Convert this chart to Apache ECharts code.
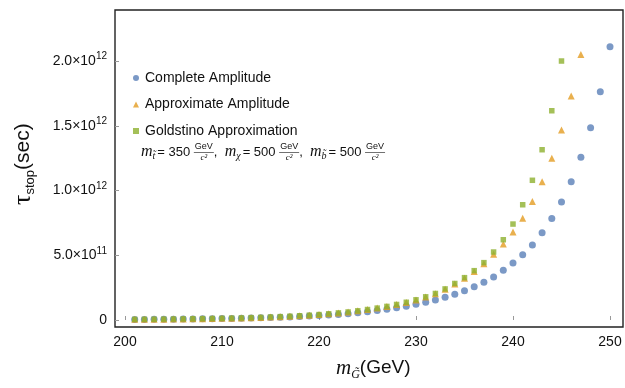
<!DOCTYPE html>
<html><head><meta charset="utf-8">
<script src="https://cdn.jsdelivr.net/npm/echarts@6/dist/echarts.min.js"></script>
<style>html,body{margin:0;padding:0;background:#fff}#c{width:625px;height:388px}</style>
</head><body><div id="c"></div>
<script>
// ---- data (tau in units of 1e12 s) ----
const massG = [201,202,203,204,205,206,207,208,209,210,211,212,213,214,215,216,217,218,219,220,
  221,222,223,224,225,226,227,228,229,230,231,232,233,234,235,236,237,238,239,240,
  241,242,243,244,245,246,247,248,249,250];
const completeAmp = [0.004,0.0045,0.005,0.0055,0.006,0.007,0.008,0.009,0.010,0.011,
  0.012,0.014,0.015,0.017,0.019,0.021,0.024,0.027,0.030,0.034,
  0.038,0.043,0.049,0.056,0.064,0.073,0.083,0.094,0.107,0.121,
  0.137,0.155,0.176,0.199,0.226,0.257,0.292,0.333,0.384,0.440,
  0.504,0.580,0.674,0.783,0.911,1.068,1.256,1.485,1.763,2.110];
const approxAmp = [0.005,0.0055,0.006,0.0067,0.0075,0.0085,0.0095,0.0106,0.0118,0.013,
  0.0145,0.016,0.018,0.020,0.023,0.026,0.029,0.033,0.037,0.042,
  0.048,0.055,0.062,0.071,0.081,0.092,0.105,0.119,0.136,0.155,
  0.177,0.203,0.237,0.278,0.322,0.374,0.434,0.507,0.587,0.680,
  0.785,0.916,1.068,1.250,1.467,1.730,2.050];
const goldstinoApprox = [0.005,0.0055,0.006,0.0067,0.0075,0.0085,0.0095,0.0106,0.0118,0.013,
  0.0145,0.016,0.018,0.020,0.023,0.026,0.029,0.033,0.037,0.042,
  0.048,0.055,0.062,0.071,0.081,0.092,0.105,0.120,0.137,0.156,
  0.179,0.205,0.240,0.282,0.327,0.381,0.443,0.525,0.620,0.741,
  0.890,1.079,1.315,1.616,2.000];
const seriesNames = ['Complete Amplitude','Approximate Amplitude','Goldstino Approximation'];
const xTicks = [200,210,220,230,240,250];
const yTicks = [0,0.5,1.0,1.5,2.0];
const yTickMantissa = ['0','5.0×10','1.0×10','1.5×10','2.0×10'];
const yTickExponent = ['','11','12','12','12'];
const UNIT = 1e12;

const colors = ['#5A7FB8','#E49C22','#8DB02E'];
const SANS = 'Liberation Sans';
const SERIF = 'Liberation Serif';

function pairs(arr){ return arr.map((v,i)=>[massG[i], v*UNIT]); }

// ---- text layout helpers for math-like annotations ----
const mctx = document.createElement('canvas').getContext('2d');
function fontStr(t){ return (t.italic?'italic ':'') + t.size + 'px "' + (t.family||SANS) + '"'; }
function measure(t){ mctx.font = fontStr(t); return mctx.measureText(t.t).width; }
function layout(tokens){
  const out = []; let x = 0;
  tokens.forEach(tk=>{
    if (tk.frac){
      const n = {t:tk.frac[0], size:9, family:SANS};
      const d = {t:tk.frac[1], size:9, family:SERIF, italic:true};
      const w = Math.max(measure(n), measure(d)) + 2;
      out.push({type:'text', style:{text:n.t, x:x+w/2, y:-5, font:fontStr(n), fill:'#111', align:'center', verticalAlign:'middle'}});
      out.push({type:'line', shape:{x1:x, y1:0.5, x2:x+w, y2:0.5}, style:{stroke:'#333', lineWidth:0.7}});
      out.push({type:'text', style:{text:d.t, x:x+w/2, y:6, font:fontStr(d), fill:'#111', align:'center', verticalAlign:'middle'}});
      x += w + (tk.gap||0);
    } else {
      out.push({type:'text', style:{text:tk.t, x:x, y:(tk.dy||0), font:fontStr(tk), fill:'#111', align:'left', verticalAlign:'middle'}});
      x += measure(tk) + (tk.gap||0);
    }
  });
  return out;
}

const annot = layout([
  {t:'m', size:16, family:SERIF, italic:true},
  {t:'t\u0303', size:10, family:SERIF, italic:true, dy:4, gap:2},
  {t:'= 350 ', size:13},
  {frac:['GeV','c²']},
  {t:',  ', size:13},
  {t:'m', size:16, family:SERIF, italic:true},
  {t:'χ', size:10, family:SERIF, italic:true, dy:4, gap:2},
  {t:'= 500 ', size:13},
  {frac:['GeV','c²']},
  {t:',  ', size:13},
  {t:'m', size:16, family:SERIF, italic:true},
  {t:'b\u0303', size:10, family:SERIF, italic:true, dy:4, gap:2},
  {t:'= 500 ', size:13},
  {frac:['GeV','c²']}
]);
const xTitle = layout([
  {t:'m', size:21, family:SERIF, italic:true},
  {t:'G\u0303', size:12, family:SERIF, italic:true, dy:7},
  {t:'(GeV)', size:19}
]);
const yTitle = layout([
  {t:'τ', size:26, family:SERIF},
  {t:'stop', size:13, dy:7},
  {t:'(sec)', size:21}
]);

const chart = echarts.init(document.getElementById('c'), null, {renderer:'canvas'});
const markers = ['circle','triangle','rect'];
const sizes = [7,7,5.5];
const datasets = [completeAmp, approxAmp, goldstinoApprox];

chart.setOption({
  animation:false,
  backgroundColor:'#fff',
  grid:{left:115, right:2, top:10, bottom:61, show:true, borderColor:'#222', borderWidth:1.4, backgroundColor:'transparent'},
  xAxis:{type:'value', min:198.97, max:251.34,
    axisLine:{show:false},
    axisTick:{show:true, inside:true, length:4, lineStyle:{color:'#999'}, customValues:xTicks},
    axisLabel:{customValues:xTicks, margin:8, fontSize:14, fontFamily:SANS, color:'#111'},
    splitLine:{show:false}},
  yAxis:{type:'value', min:-0.054*UNIT, max:2.394*UNIT,
    axisLine:{show:false},
    axisTick:{show:true, inside:true, length:4, lineStyle:{color:'#999'}, customValues:yTicks.map(v=>v*UNIT)},
    axisLabel:{customValues:yTicks.map(v=>v*UNIT), margin:8, fontFamily:SANS, color:'#111',
      formatter:function(v){
        let i = yTicks.findIndex(t=>Math.abs(t*UNIT - v) < 1e6);
        if (i < 0) return '';
        return yTickExponent[i] ? '{a|'+yTickMantissa[i]+'}{s|'+yTickExponent[i]+'}' : '{a|'+yTickMantissa[i]+'}';
      },
      rich:{a:{fontSize:14, fontFamily:SANS, color:'#111'}, s:{fontSize:10, fontFamily:SANS, color:'#111', padding:[0,0,9,0]}}},
    splitLine:{show:false}},
  legend:{orient:'vertical', left:128, top:65, itemWidth:6, itemHeight:6, itemGap:10.5,
    textStyle:{fontSize:14, fontFamily:SANS, color:'#111', lineHeight:16, padding:[0,0,0,1]},
    data:seriesNames.map((n,i)=>({name:n, icon:markers[i]}))},
  series:datasets.map((d,i)=>({
    name:seriesNames[i], type:'scatter', symbol:markers[i], symbolSize:sizes[i],
    itemStyle:{color:colors[i]}, data:pairs(d), z:2+i
  })),
  graphic:[
    {type:'group', x:141, y:152, children:annot},
    {type:'group', x:336, y:368, children:xTitle},
    {type:'group', x:23, y:205, rotation:Math.PI/2, children:yTitle}
  ]
});
</script></body></html>
